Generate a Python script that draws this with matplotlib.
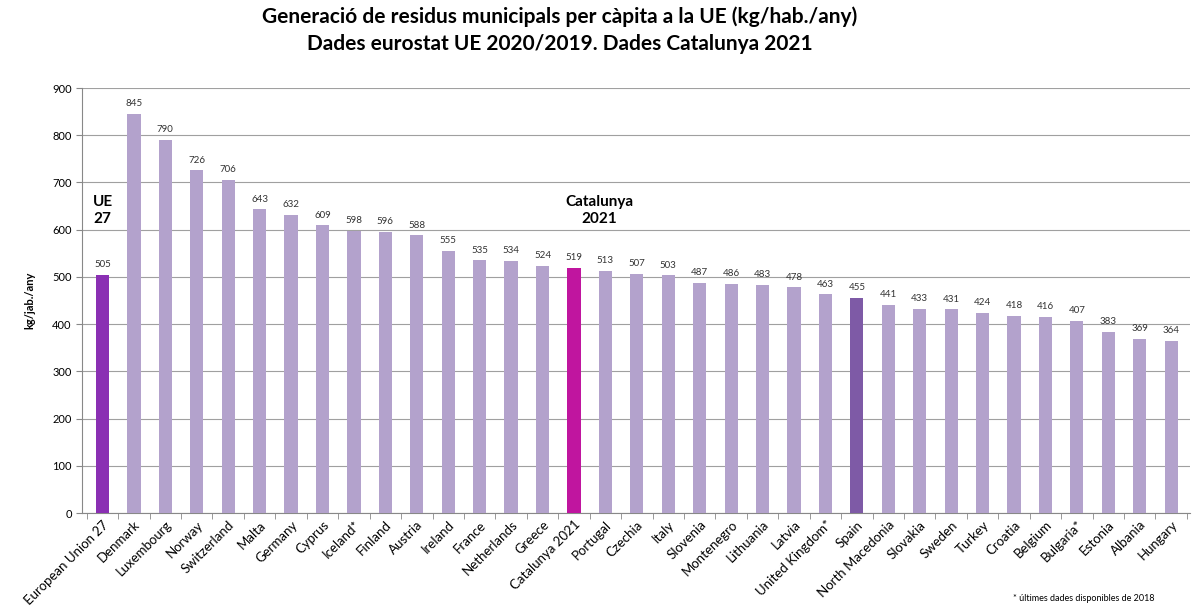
import matplotlib.pyplot as plt
import numpy as np

plt.rcParams['font.family'] = ['Lato', 'DejaVu Sans']

countries = ["European Union 27", "Denmark", "Luxembourg", "Norway", "Switzerland",
             "Malta", "Germany", "Cyprus", "Iceland*", "Finland", "Austria", "Ireland",
             "France", "Netherlands", "Greece", "Catalunya 2021", "Portugal", "Czechia",
             "Italy", "Slovenia", "Montenegro", "Lithuania", "Latvia", "United Kingdom*",
             "Spain", "North Macedonia", "Slovakia", "Sweden", "Turkey", "Croatia",
             "Belgium", "Bulgaria*", "Estonia", "Albania", "Hungary"]
values = [505, 845, 790, 726, 706, 643, 632, 609, 598, 596, 588, 555, 535, 534, 524,
          519, 513, 507, 503, 487, 486, 483, 478, 463, 455, 441, 433, 431, 424, 418,
          416, 407, 383, 369, 364]

base = '#b3a2cc'
special = {"European Union 27": '#8a2fb3', "Catalunya 2021": '#c0159f', "Spain": '#7e5aa6'}
colors = [special.get(c, base) for c in countries]

fig = plt.figure(figsize=(11.96, 6.09), dpi=100)
ax = fig.add_axes([0.0686, 0.1576, 0.9264, 0.6979])

x = np.arange(len(countries))
ax.bar(x, values, width=0.42, color=colors, zorder=3)
for xi, v in zip(x, values):
    ax.text(xi, v + 12, str(v), ha='center', va='bottom', fontsize=7, color='#333333')

ax.set_xlim(-0.65, len(countries) - 0.4)
ax.set_ylim(0, 900)
ax.set_yticks(range(0, 901, 100))
ax.yaxis.grid(True, color='#a0a0a0', linewidth=0.8, zorder=0)
ax.set_xticks(x)
ax.set_xticklabels(countries, rotation=45, ha='right', rotation_mode='anchor', fontsize=9.5)
ax.set_xticks(np.arange(-0.5, len(countries)), minor=True)
ax.tick_params(axis='x', which='major', length=0, pad=4)
ax.tick_params(axis='x', which='minor', length=4, color='#888888')
ax.tick_params(axis='y', length=4, color='#888888', labelsize=8)
for s in ['top', 'right']:
    ax.spines[s].set_visible(False)
for s in ['left', 'bottom']:
    ax.spines[s].set_color('#888888')

ax.set_ylabel("kg/jab./any", fontsize=8, fontweight='bold', labelpad=12)
ax.text(0, 640, "UE\n27", fontsize=11, fontweight='bold', ha='center', va='center',
        linespacing=1.3)
ax.text(15.8, 640, "Catalunya\n2021", fontsize=11, fontweight='bold', ha='center',
        va='center', linespacing=1.3)

fig.text(0.468, 0.99, "Generació de residus municipals per càpita a la UE (kg/hab./any)\n"
         "Dades eurostat UE 2020/2019. Dades Catalunya 2021",
         ha='center', va='top', fontsize=15, fontweight='bold', linespacing=1.45)
fig.text(0.965, 0.01, "* últimes dades disponibles de 2018", ha='right', va='bottom',
         fontsize=6.5)

fig.savefig('out.png', dpi=100)
